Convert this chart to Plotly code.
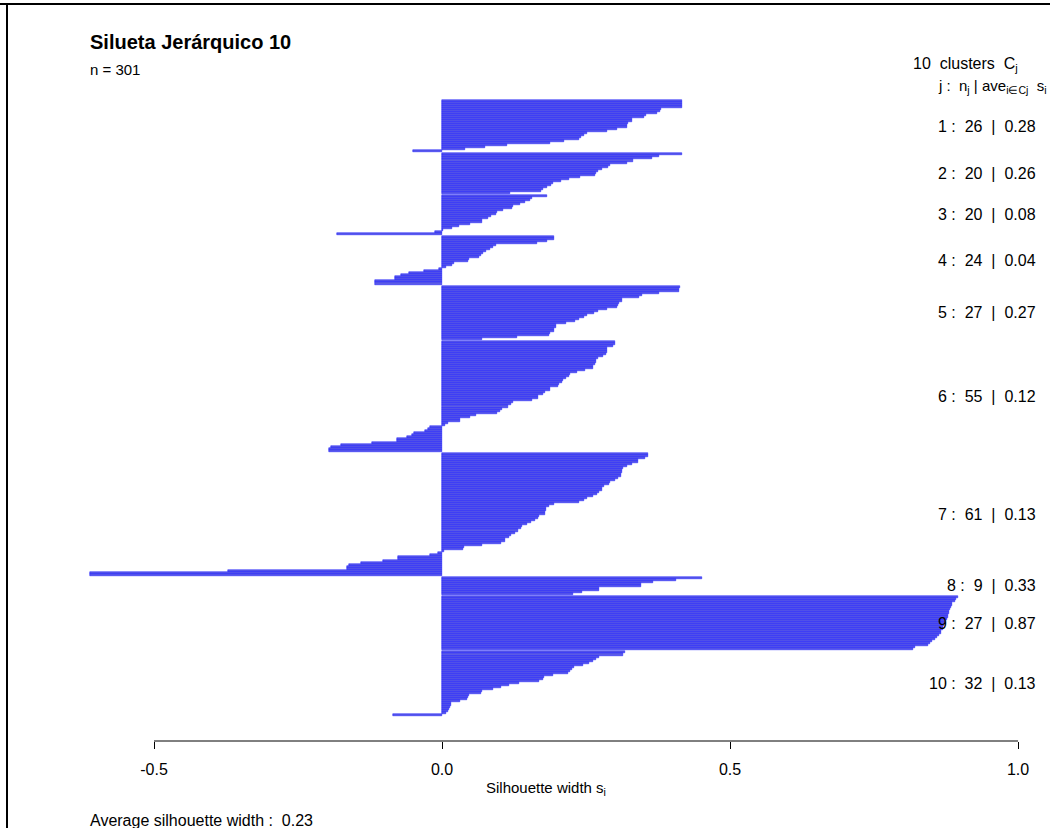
import plotly.graph_objects as go

# ---------------- data ----------------
c1 = [0.417, 0.416, 0.416, 0.416, 0.381, 0.378, 0.373, 0.354, 0.350, 0.330, 0.329, 0.323,
      0.321, 0.321, 0.304, 0.286, 0.251, 0.247, 0.242, 0.237, 0.211, 0.188, 0.112, 0.075,
      0.040, -0.050]
c2 = [0.416, 0.377, 0.364, 0.331, 0.321, 0.292, 0.289, 0.277, 0.270, 0.267, 0.266, 0.240,
      0.220, 0.206, 0.192, 0.189, 0.183, 0.176, 0.171, 0.118]
c3 = [0.183, 0.157, 0.153, 0.144, 0.135, 0.123, 0.121, 0.106, 0.096, 0.094, 0.085, 0.080,
      0.070, 0.070, 0.049, 0.030, 0.018, 0.002, -0.012, -0.183]
c4 = [0.195, 0.195, 0.182, 0.165, 0.093, 0.089, 0.083, 0.076, 0.072, 0.068, 0.065, 0.047,
      0.045, 0.021, 0.017, 0.007, -0.006, -0.031, -0.058, -0.071, -0.081, -0.081, -0.116,
      -0.116]
c5 = [0.413, 0.411, 0.411, 0.376, 0.348, 0.342, 0.312, 0.312, 0.307, 0.305, 0.303, 0.287,
      0.270, 0.264, 0.252, 0.247, 0.238, 0.231, 0.215, 0.198, 0.198, 0.195, 0.195, 0.188,
      0.185, 0.130, 0.070]
c6 = [0.300, 0.300, 0.296, 0.286, 0.286, 0.286, 0.285, 0.280, 0.271, 0.268, 0.267, 0.266,
      0.263, 0.262, 0.249, 0.235, 0.222, 0.221, 0.216, 0.210, 0.209, 0.203, 0.202, 0.188,
      0.187, 0.178, 0.175, 0.167, 0.166, 0.157, 0.124, 0.119, 0.114, 0.104, 0.101, 0.096,
      0.059, 0.049, 0.032, 0.031, 0.010, 0.005,
      -0.021, -0.025, -0.030, -0.048, -0.052, -0.060, -0.079, -0.079, -0.122, -0.175,
      -0.193, -0.197, -0.197]
c7 = [0.358, 0.357, 0.352, 0.341, 0.340, 0.329, 0.322, 0.314, 0.312, 0.312, 0.311, 0.310,
      0.305, 0.300, 0.291, 0.290, 0.281, 0.278, 0.277, 0.272, 0.269, 0.262, 0.252, 0.246,
      0.238, 0.195, 0.185, 0.180, 0.180, 0.179, 0.179, 0.168, 0.166, 0.161, 0.154, 0.147,
      0.139, 0.137, 0.132, 0.127, 0.120, 0.117, 0.110, 0.109, 0.103, 0.070, 0.039, 0.036,
      0.003,
      -0.007, -0.020, -0.076, -0.076, -0.103, -0.140, -0.162, -0.165, -0.165, -0.371,
      -0.611, -0.611]
c8 = [0.451, 0.407, 0.366, 0.346, 0.346, 0.273, 0.273, 0.243, 0.227]
c9 = [0.896, 0.893, 0.890, 0.886, 0.885, 0.884, 0.882, 0.881, 0.880, 0.879, 0.878, 0.876,
      0.874, 0.873, 0.872, 0.870, 0.869, 0.867, 0.866, 0.862, 0.859, 0.856, 0.851, 0.848,
      0.844, 0.822, 0.818]
c10 = [0.317, 0.314, 0.273, 0.268, 0.263, 0.255, 0.245, 0.229, 0.225, 0.222, 0.218, 0.192,
       0.177, 0.176, 0.168, 0.133, 0.116, 0.103, 0.088, 0.069, 0.068, 0.046, 0.045, 0.044,
       0.031, 0.016, 0.015, 0.014, 0.012, 0.010, 0.007, -0.085]

clusters = [c1, c2, c3, c4, c5, c6, c7, c8, c9, c10]
cluster_ave_labels = ["0.28", "0.26", "0.08", "0.04", "0.27", "0.12", "0.13", "0.33", "0.87", "0.13"]
tick_vals = [-0.5, 0.0, 0.5, 1.0]
tick_text = ["-0.5", "0.0", "0.5", "1.0"]
title_text = "Silueta Jerárquico 10"
avg_width_text = "0.23"
GAP = 0.5

# ---------------- build bar positions ----------------
ys, xs, mids = [], [], []
offset = 0.0
for k, vals in enumerate(clusters):
    start = offset
    for j, v in enumerate(vals):
        ys.append(offset + j + 0.5)
        xs.append(v)
    offset += len(vals)
    mids.append((start + offset) / 2)
    offset += GAP
total_units = offset - GAP
n_total = sum(len(c) for c in clusters)

# ---------------- geometry ----------------
W, H = 1050, 828
PL, PR, PT, PB = 60, 1040, 90, 741
X0PX, XSCALE = 442, 576.0          # pixel of x=0, pixels per unit
BAR_TOP, BAR_BOT = 100, 716
YSCALE = (BAR_BOT - BAR_TOP) / total_units

def px_x(p):
    return (p - PL) / (PR - PL)

def px_y(p):
    return (PB - p) / (PB - PT)

def unit_to_paper(u):
    return px_y(BAR_TOP + u * YSCALE)

xr = [(PL - X0PX) / XSCALE, (PR - X0PX) / XSCALE]
yr = [(PB - BAR_TOP) / YSCALE, (PT - BAR_TOP) / YSCALE]

FONT = "Liberation Sans, Arial, sans-serif"
NB = "\u00a0"

fig = go.Figure()
fig.add_trace(go.Bar(
    x=xs, y=ys, orientation="h", width=1.0,
    marker=dict(color="#5a5ae6", line=dict(color="#1414ff", width=0.5)),
    hoverinfo="x",
    showlegend=False,
))

ann = []
# title and n
ann.append(dict(text="<b>" + title_text + "</b>", x=px_x(88), y=px_y(42), xref="paper", yref="paper",
                xanchor="left", yanchor="middle", showarrow=False,
                font=dict(size=20, color="black", family=FONT)))
ann.append(dict(text=f"n = {n_total}", x=px_x(88), y=px_y(69), xref="paper", yref="paper",
                xanchor="left", yanchor="middle", showarrow=False,
                font=dict(size=15, color="black", family=FONT)))
# right header
ann.append(dict(text=f"{len(clusters)}{NB*2}clusters{NB*2}C<sub>j</sub>", x=px_x(911), y=px_y(64),
                xref="paper", yref="paper", xanchor="left", yanchor="middle", showarrow=False,
                font=dict(size=16, color="black", family=FONT)))
ann.append(dict(text=f"j :{NB*2}n<sub>j</sub> | ave<sub>i\u2208Cj</sub>{NB*2}s<sub>i</sub>", x=px_x(1049), y=px_y(86),
                xref="paper", yref="paper", xanchor="right", yanchor="middle", showarrow=False,
                font=dict(size=15, color="black", family=FONT)))
# cluster labels
for k, vals in enumerate(clusters):
    ann.append(dict(text=f"{k+1} :{NB*2}{len(vals)}{NB*2}|{NB*2}{cluster_ave_labels[k]}",
                    x=px_x(1038), y=unit_to_paper(mids[k]), xref="paper", yref="paper",
                    xanchor="right", yanchor="middle", showarrow=False,
                    font=dict(size=16, color="black", family=FONT)))
# axis title
ann.append(dict(text="Silhouette width s<sub>i</sub>", x=px_x(546), y=px_y(789), xref="paper", yref="paper",
                xanchor="center", yanchor="middle", showarrow=False,
                font=dict(size=15, color="black", family=FONT)))
# average silhouette width
ann.append(dict(text=f"Average silhouette width :{NB*2}{avg_width_text}", x=px_x(88), y=px_y(820),
                xref="paper", yref="paper", xanchor="left", yanchor="middle", showarrow=False,
                font=dict(size=16, color="black", family=FONT)))

shapes = [
    # x axis line only between first and last tick
    dict(type="line", xref="x", yref="paper", x0=tick_vals[0], x1=tick_vals[-1], y0=0, y1=0,
         line=dict(color="black", width=1)),
    # frame lines of the screenshot
    dict(type="line", xref="paper", yref="paper", x0=px_x(0), x1=px_x(W), y0=px_y(4), y1=px_y(4),
         line=dict(color="black", width=2)),
    dict(type="line", xref="paper", yref="paper", x0=px_x(7), x1=px_x(7), y0=px_y(3), y1=px_y(H),
         line=dict(color="black", width=2)),
]

fig.update_layout(
    width=W, height=H,
    margin=dict(l=PL, r=W - PR, t=PT, b=H - PB, pad=0),
    paper_bgcolor="white", plot_bgcolor="white",
    bargap=0,
    font=dict(family=FONT, size=15, color="black"),
    xaxis=dict(range=xr, tickvals=tick_vals, ticktext=tick_text, ticks="outside", ticklen=7,
               tickcolor="black", tickwidth=1, showgrid=False, zeroline=False, showline=False,
               tickfont=dict(size=16, family=FONT, color="black"), ticklabelstandoff=7),
    yaxis=dict(range=yr, showticklabels=False, ticks="", showgrid=False, zeroline=False,
               showline=False),
    annotations=ann,
    shapes=shapes,
)

fig.write_html("out.html")
